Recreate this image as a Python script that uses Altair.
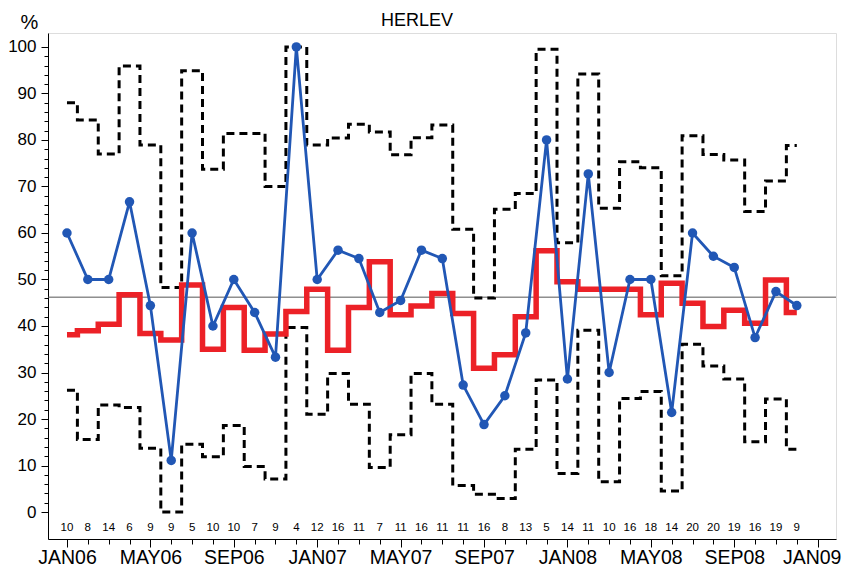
import json
import altair as alt
import pandas as pd

# ---- data ----
months = list(range(36))  # 0 = JAN06 ... 35 = DEC08
n_counts = [10, 8, 14, 6, 9, 9, 5, 10, 10, 7, 9, 4,
            12, 16, 11, 7, 11, 16, 11, 11, 16, 8, 13, 5,
            14, 11, 10, 16, 18, 14, 20, 20, 19, 16, 19, 9]
observed = [60.0, 50.0, 50.0, 66.7, 44.4, 11.1, 60.0, 40.0, 50.0, 42.9, 33.3, 100.0,
            50.0, 56.3, 54.5, 42.9, 45.5, 56.3, 54.5, 27.3, 18.8, 25.0, 38.5, 80.0,
            28.6, 72.7, 30.0, 50.0, 50.0, 21.4, 60.0, 55.0, 52.6, 37.5, 47.4, 44.4]
expected = [38.1, 39.0, 40.4, 46.7, 38.4, 37.0, 48.8, 35.0, 44.0, 34.8, 38.3, 43.1,
            47.9, 34.8, 44.0, 53.8, 42.4, 44.3, 47.0, 42.7, 30.9, 33.8, 42.0, 56.2,
            49.5, 47.9, 47.9, 47.9, 42.4, 49.2, 44.9, 39.9, 43.4, 40.6, 49.9, 42.9]
upper = [88.0, 84.3, 77.0, 95.9, 78.9, 48.3, 94.9, 73.7, 81.4, 81.4, 70.0, 100.0,
         78.9, 80.4, 83.4, 81.7, 76.8, 80.5, 83.2, 60.8, 46.0, 65.1, 68.5, 99.5,
         57.9, 94.2, 65.3, 75.3, 74.0, 50.8, 80.9, 76.9, 75.7, 64.6, 71.2, 78.8]
lower = [26.2, 15.6, 23.0, 22.5, 13.7, 0.0, 14.6, 11.9, 18.6, 9.8, 7.1, 39.7,
         21.0, 29.8, 23.2, 9.6, 16.6, 29.8, 23.2, 5.7, 3.8, 2.9, 13.5, 28.4,
         8.3, 39.1, 6.5, 24.4, 25.9, 4.5, 36.1, 31.4, 28.6, 15.1, 24.3, 13.5]
overall_mean = [46.2]
title_text = ["HERLEV"]
tick_labels = ["JAN06", "MAY06", "SEP06", "JAN07", "MAY07",
               "SEP07", "JAN08", "MAY08", "SEP08", "JAN09"]
tick_positions = [0, 4, 8, 12, 16, 20, 24, 28, 32, 36]

df = pd.DataFrame({"month": months, "n": n_counts, "observed": observed,
                   "expected": expected, "upper": upper, "lower": lower})
df["n_label"] = df["n"].astype(str)
mean_df = pd.DataFrame({"mean": overall_mean})
title_df = pd.DataFrame({"title": title_text})

FONT = "Liberation Sans"

pos_js = json.dumps(tick_positions)
x_label_expr = ("indexof(" + pos_js + ", datum.value) >= 0 ? "
                + json.dumps(tick_labels) + "[indexof(" + pos_js + ", datum.value)] : ''")

x_enc = alt.X(
    "month:Q",
    scale=alt.Scale(domain=[-0.91, 36.88], nice=False, zero=False),
    axis=alt.Axis(
        title=None,
        values=list(range(0, 37)),
        labelExpr=x_label_expr,
        tickSize={"condition": {"test": "datum.value % 4 === 0", "value": 8}, "value": 5},
        labelOffset={"condition": {"test": "datum.value === 36", "value": -6}, "value": 0},
        labelPadding=1.5,
        labelFontSize=19.5,
        labelFont=FONT,
        labelColor="black",
        labelOverlap=False,
        tickColor="black",
        domainColor="black",
        grid=False,
    ),
)

y_scale = alt.Scale(domain=[-5.8, 103.0], nice=False, zero=False)
y_axis = alt.Axis(
    title="%",
    titleAngle=0,
    titleX=-19,
    titleY=-5,
    titleAlign="center",
    titleBaseline="alphabetic",
    titleFontSize=20,
    titleFont=FONT,
    titleFontWeight="normal",
    titleColor="black",
    values=list(range(0, 101, 2)),
    labelExpr="datum.value % 10 === 0 ? datum.label : ''",
    tickSize={"condition": {"test": "datum.value % 10 === 0", "value": 7}, "value": 4},
    labelPadding=5,
    labelFontSize=17,
    labelFont=FONT,
    labelColor="black",
    tickColor="black",
    domainColor="black",
    grid=False,
)

base = alt.Chart(df)

mean_rule = alt.Chart(mean_df).mark_rule(color="#555555", strokeWidth=1).encode(
    y=alt.Y("mean:Q", scale=y_scale, axis=y_axis)
)

upper_line = base.mark_line(interpolate="step", color="black", strokeWidth=3,
                            strokeDash=[8, 5]).encode(
    x=x_enc, y=alt.Y("upper:Q", scale=y_scale, axis=y_axis)
)
lower_line = base.mark_line(interpolate="step", color="black", strokeWidth=3,
                            strokeDash=[8, 5]).encode(
    x=x_enc, y=alt.Y("lower:Q", scale=y_scale, axis=y_axis)
)
expected_line = base.mark_line(interpolate="step", color="#ec2127", strokeWidth=5.5).encode(
    x=x_enc, y=alt.Y("expected:Q", scale=y_scale, axis=y_axis)
)
observed_line = base.mark_line(color="#2157b5", strokeWidth=2.8).encode(
    x=x_enc, y=alt.Y("observed:Q", scale=y_scale, axis=y_axis)
)
observed_pts = base.mark_circle(color="#2157b5", size=90, opacity=1).encode(
    x=x_enc, y=alt.Y("observed:Q", scale=y_scale, axis=y_axis)
)
count_text = base.mark_text(fontSize=11.5, font=FONT, color="black",
                            baseline="middle", align="center").encode(
    x=x_enc, y=alt.value(495), text="n_label:N"
)
title_mark = alt.Chart(title_df).mark_text(fontSize=18, font=FONT, color="black",
                                           baseline="alphabetic", align="center").encode(
    x=alt.value(369), y=alt.value(-7), text="title:N"
)

chart = alt.layer(
    mean_rule, upper_line, lower_line, expected_line, observed_line, observed_pts,
    count_text, title_mark
).properties(
    width=788,
    height=506,
    autosize=alt.AutoSizeParams(type="none"),
    padding={"left": 40, "top": 25, "right": 6, "bottom": 30},
).configure_view(
    stroke="black", strokeWidth=1
).configure(background="white")

chart.save("out.html", embed_options={"renderer": "svg", "actions": False})
